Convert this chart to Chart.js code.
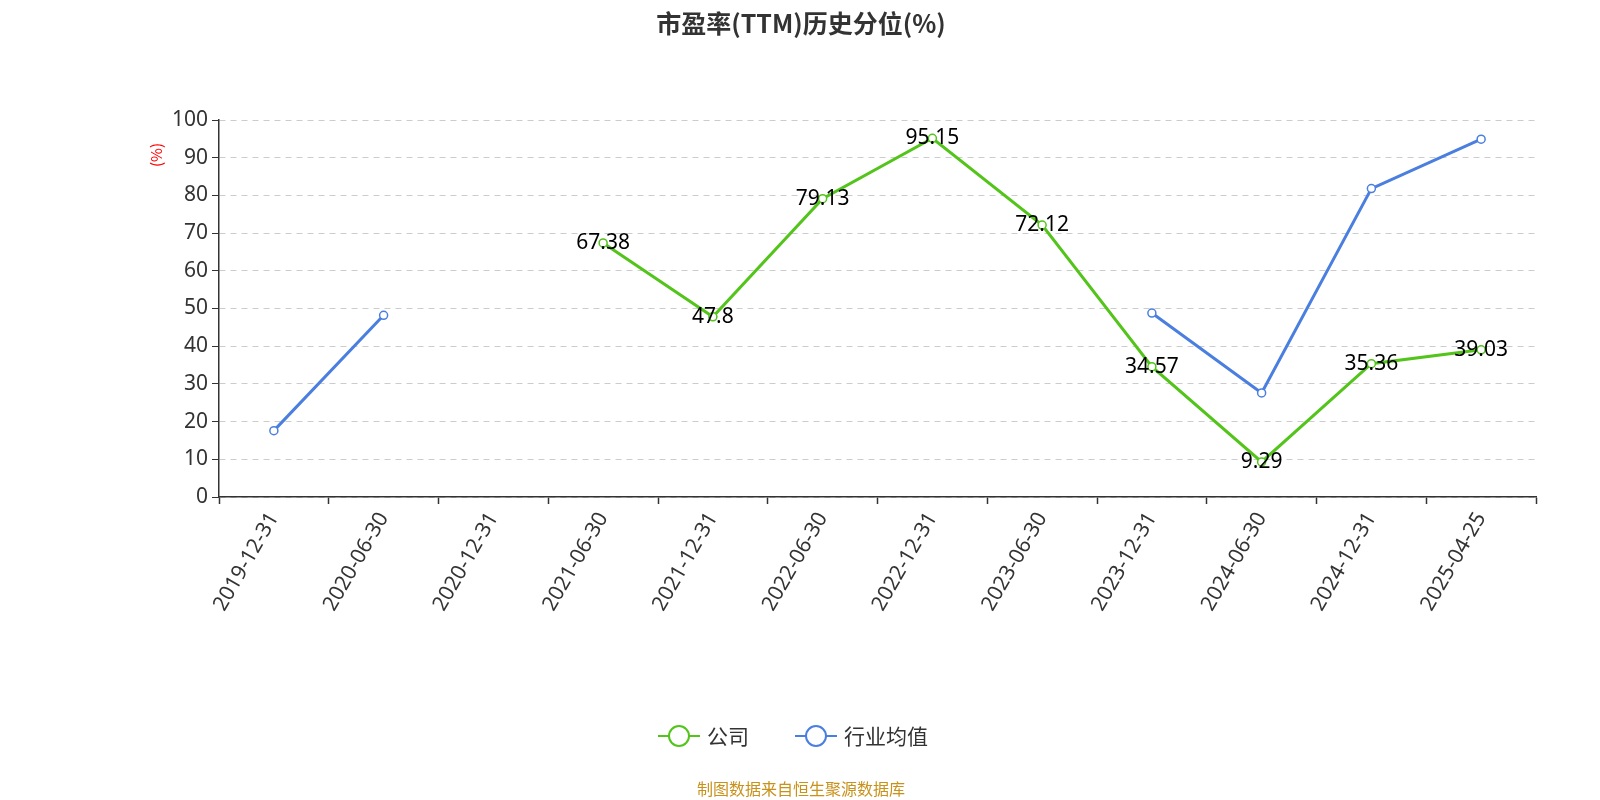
<!DOCTYPE html>
<html><head><meta charset="utf-8">
<script src="https://cdn.jsdelivr.net/npm/chart.js@4/dist/chart.umd.min.js"></script>
<style>body{margin:0;background:#fff}#wrap{width:1600px;height:800px}</style>
</head><body><div id="wrap"><canvas id="c"></canvas></div>
<script>
const categories = ['2019-12-31','2020-06-30','2020-12-31','2021-06-30','2021-12-31','2022-06-30','2022-12-31','2023-06-30','2023-12-31','2024-06-30','2024-12-31','2025-04-25'];
const companyValues = [null,null,null,67.38,47.8,79.13,95.15,72.12,34.57,9.29,35.36,39.03];
const industryValues = [17.6,48.2,null,null,null,null,null,null,48.8,27.6,81.8,94.9];
const yTicks = [0,10,20,30,40,50,60,70,80,90,100];
const font = '"Noto Sans","Noto Sans CJK SC",sans-serif';
const cjk = '"Noto Sans CJK SC","Noto Sans",sans-serif';

const extras = {
    id: 'extras',
    afterDatasetsDraw(chart) {
        const ctx = chart.ctx;
        ctx.save();
        const meta = chart.getDatasetMeta(0);
        ctx.font = '21px ' + font;
        ctx.fillStyle = '#000';
        ctx.textAlign = 'center';
        ctx.textBaseline = 'middle';
        meta.data.forEach((pt, i) => {
            if (companyValues[i] == null) return;
            ctx.fillText(String(companyValues[i]), pt.x, pt.y);
        });
        ctx.font = 'bold 25px ' + cjk;
        ctx.fillStyle = '#333';
        ctx.fillText('市盈率(TTM)历史分位(%)', 801, 23);
        ctx.save();
        ctx.translate(156, 155);
        ctx.rotate(-Math.PI / 2);
        ctx.font = '15px ' + cjk;
        ctx.fillStyle = 'red';
        ctx.fillText('(%)', 0, 0);
        ctx.restore();
        const items = [['公司', '#52c41a', 679], ['行业均值', '#4a7fe0', 816]];
        items.forEach(([name, col, x]) => {
            ctx.strokeStyle = col; ctx.lineWidth = 2;
            ctx.beginPath(); ctx.moveTo(x - 21, 736); ctx.lineTo(x + 21, 736); ctx.stroke();
            ctx.beginPath(); ctx.arc(x, 736, 10, 0, Math.PI * 2);
            ctx.fillStyle = '#fff'; ctx.fill(); ctx.stroke();
            ctx.fillStyle = '#333'; ctx.font = '21px ' + cjk; ctx.textAlign = 'left';
            ctx.fillText(name, x + 28, 736);
        });
        ctx.textAlign = 'center';
        ctx.font = '16px ' + cjk;
        ctx.fillStyle = '#c8911a';
        ctx.fillText('制图数据来自恒生聚源数据库', 801, 789);
        ctx.restore();
    }
};

new Chart(document.getElementById('c'), {
    type: 'line',
    data: {
        labels: categories,
        datasets: [
            { label: '公司', data: companyValues, borderColor: '#52c41a', backgroundColor: '#fff', borderWidth: 3, pointRadius: 4, pointBorderWidth: 1.5, tension: 0, spanGaps: false },
            { label: '行业均值', data: industryValues, borderColor: '#4a7fe0', backgroundColor: '#fff', borderWidth: 3, pointRadius: 4, pointBorderWidth: 1.5, tension: 0, spanGaps: false }
        ]
    },
    options: {
        responsive: true,
        maintainAspectRatio: false,
        animation: false,
        layout: { padding: { top: 120, right: 64, bottom: 0, left: 0 } },
        plugins: { legend: { display: false }, title: { display: false }, tooltip: { enabled: false } },
        scales: {
            x: {
                offset: true,
                grid: { display: true, drawOnChartArea: false, offset: true, tickLength: 7, tickColor: '#333', tickWidth: 1.5 },
                border: { color: '#333', width: 1.5 },
                ticks: { color: '#333', font: { size: 21, family: font }, minRotation: 60, maxRotation: 60, padding: 4 },
                afterFit(s) { s.height = 303; }
            },
            y: {
                min: 0, max: 100,
                afterBuildTicks(s) { s.ticks = yTicks.map(v => ({ value: v })); },
                grid: { color: '#ccc', drawTicks: true, tickLength: 7, tickColor: '#333' },
                border: { color: '#333', width: 1.5, display: true },
                ticks: { color: '#333', font: { size: 21, family: font }, padding: 4 },
                afterFit(s) { s.width = 219; }
            }
        }
    },
    plugins: [extras, {
        id: 'dashgrid',
        beforeDraw(chart) { chart.options.scales.y.grid.borderDash = [6, 5]; }
    }]
});
// dashed horizontal grid lines
Chart.defaults.scale.grid.tickBorderDash = [];
</script>
<script>
const ch = Chart.getChart('c');
ch.options.scales.y.border.dash = [6, 5];
ch.options.scales.y.border.dashOffset = 0;
ch.update();
</script>
</body></html>
